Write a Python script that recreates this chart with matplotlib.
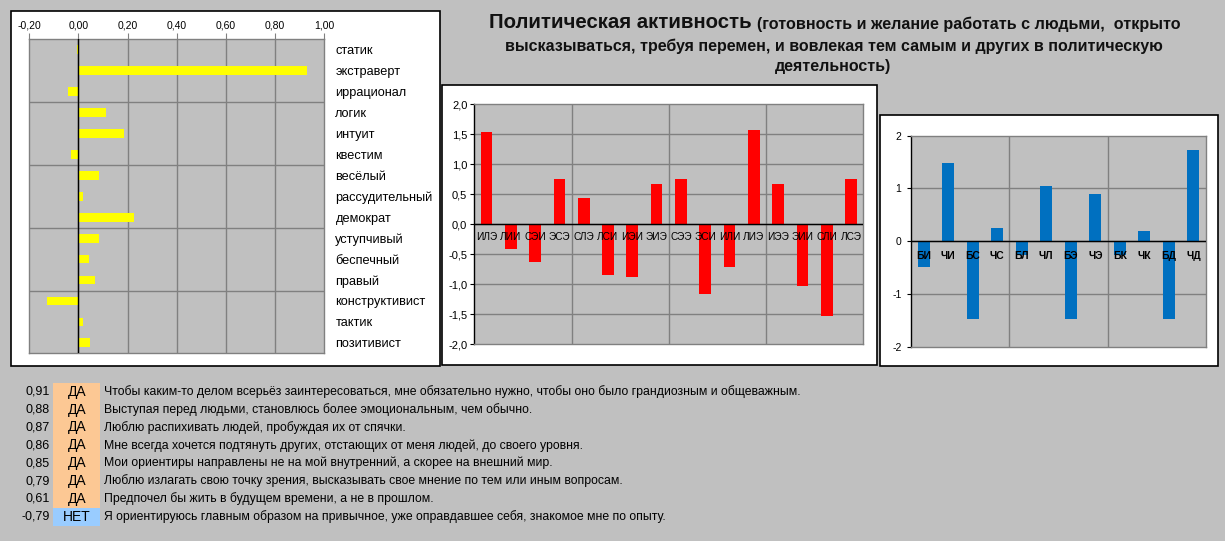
import matplotlib
matplotlib.use("Agg")
import matplotlib.pyplot as plt
from matplotlib.patches import Rectangle

W, H = 1225, 541
BG = "#c0c0c0"
GRID = "#808080"

# ---- data ----
traits = ["статик", "экстраверт", "иррационал", "логик", "интуит", "квестим",
          "весёлый", "рассудительный", "демократ", "уступчивый", "беспечный",
          "правый", "конструктивист", "тактик", "позитивист"]
trait_vals = [-0.007, 0.93, -0.043, 0.11, 0.186, -0.03, 0.084, 0.019, 0.226,
              0.084, 0.043, 0.069, -0.129, 0.019, 0.047]
trait_ticks = [-0.2, 0.0, 0.2, 0.4, 0.6, 0.8, 1.0]

types = ["ИЛЭ", "ЛИИ", "СЭИ", "ЭСЭ", "СЛЭ", "ЛСИ", "ИЭИ", "ЭИЭ",
         "СЭЭ", "ЭСИ", "ИЛИ", "ЛИЭ", "ИЭЭ", "ЭИИ", "СЛИ", "ЛСЭ"]
type_vals = [1.54, -0.41, -0.62, 0.76, 0.44, -0.84, -0.88, 0.67,
             0.76, -1.16, -0.71, 1.58, 0.67, -1.02, -1.52, 0.76]
type_ticks = [-2.0, -1.5, -1.0, -0.5, 0.0, 0.5, 1.0, 1.5, 2.0]

funcs = ["БИ", "ЧИ", "БС", "ЧС", "БЛ", "ЧЛ", "БЭ", "ЧЭ", "БК", "ЧК", "БД", "ЧД"]
func_vals = [-0.49, 1.49, -1.48, 0.25, -0.27, 1.04, -1.48, 0.89, -0.27, 0.20, -1.48, 1.73]
func_ticks = [-2, -1, 0, 1, 2]

q_corr = ["0,91", "0,88", "0,87", "0,86", "0,85", "0,79", "0,61", "-0,79"]
q_ans = ["ДА", "ДА", "ДА", "ДА", "ДА", "ДА", "ДА", "НЕТ"]
q_text = [
    "Чтобы каким-то делом всерьёз заинтересоваться, мне обязательно нужно, чтобы оно было грандиозным и общеважным.",
    "Выступая перед людьми, становлюсь более эмоциональным, чем обычно.",
    "Люблю распихивать людей, пробуждая их от спячки.",
    "Мне всегда хочется подтянуть других, отстающих от меня людей, до своего уровня.",
    "Мои ориентиры направлены не на мой внутренний, а скорее на внешний мир.",
    "Люблю излагать свою точку зрения, высказывать свое мнение по тем или иным вопросам.",
    "Предпочел бы жить в будущем времени, а не в прошлом.",
    "Я ориентируюсь главным образом на привычное, уже оправдавшее себя, знакомое мне по опыту.",
]

title_big = "Политическая активность"
title_l1 = "(готовность и желание работать с людьми,  открыто"
title_l2 = "высказываться, требуя перемен, и вовлекая тем самым и других в политическую"
title_l3 = "деятельность)"

plt.rcParams["font.family"] = ["Liberation Sans", "DejaVu Sans"]

fig = plt.figure(figsize=(W / 100, H / 100), dpi=100, facecolor=BG)


def rect(x0, y0, x1, y1):
    return [x0 / W, 1 - y1 / H, (x1 - x0) / W, (y1 - y0) / H]


def fx(x):
    return x / W


def fy(y):
    return 1 - y / H


def panel(x0, y0, x1, y1):
    fig.patches.append(Rectangle((fx(x0), fy(y1)), (x1 - x0) / W, (y1 - y0) / H,
                                 transform=fig.transFigure, facecolor="white",
                                 edgecolor="black", linewidth=1.2, zorder=-5))


panel(11, 11, 440, 366)
panel(442, 85, 877, 365)
panel(880, 115, 1218, 366)


def style_axes(ax):
    ax.set_facecolor(BG)
    for s in ax.spines.values():
        s.set_color(GRID)
        s.set_linewidth(1.0)


# ---- left chart ----
ax1 = fig.add_axes(rect(29.3, 39.3, 324.3, 353.3))
style_axes(ax1)
yp = list(range(len(traits)))
ax1.barh(yp, trait_vals, height=0.42, color="#ffff00", zorder=3)
ax1.set_xlim(-0.2, 1.0)
ax1.set_ylim(len(traits) - 0.5, -0.5)
ax1.set_xticks(trait_ticks)
ax1.set_xticklabels([f"{t:.2f}".replace(".", ",") for t in trait_ticks], fontsize=7.5)
ax1.xaxis.tick_top()
ax1.tick_params(axis="x", length=4, color=GRID, pad=2)
ax1.set_yticks(yp)
ax1.set_yticklabels(traits, fontsize=9.2)
ax1.yaxis.tick_right()
ax1.tick_params(axis="y", length=0, pad=8)
for t in trait_ticks[1:-1]:
    ax1.axvline(t, color=GRID, lw=1.0, zorder=1)
for b in [2.5, 5.5, 8.5, 11.5]:
    ax1.axhline(b, color=GRID, lw=1.0, zorder=1)
ax1.axvline(0, color="black", lw=1.0, zorder=4)

# ---- middle chart ----
ax2 = fig.add_axes(rect(474.3, 104.3, 863.3, 344.3))
style_axes(ax2)
xp = list(range(len(types)))
ax2.bar(xp, type_vals, width=0.48, color="#ff0000", zorder=3)
ax2.set_xlim(-0.5, len(types) - 0.5)
ax2.set_ylim(-2, 2)
ax2.set_yticks(type_ticks)
ax2.set_yticklabels([f"{t:.1f}".replace(".", ",") for t in type_ticks], fontsize=8)
ax2.tick_params(axis="y", length=3, pad=2)
ax2.set_xticks([])
ax2.spines["left"].set_color("black")
for t in type_ticks[1:-1]:
    ax2.axhline(t, color=GRID, lw=1.0, zorder=1)
for b in [3.5, 7.5, 11.5]:
    ax2.axvline(b, color=GRID, lw=1.0, zorder=1)
ax2.axhline(0, color="black", lw=1.0, zorder=4)
for i, lab in enumerate(types):
    ax2.text(i, -0.207, lab, ha="center", va="center", fontsize=7.3, zorder=5)

# ---- right chart ----
ax3 = fig.add_axes(rect(911.3, 135.7, 1205.7, 346.7))
style_axes(ax3)
xf = list(range(len(funcs)))
ax3.bar(xf, func_vals, width=0.49, color="#0070c0", zorder=3)
ax3.set_xlim(-0.5, len(funcs) - 0.5)
ax3.set_ylim(-2, 2)
ax3.set_yticks(func_ticks)
ax3.set_yticklabels([str(t) for t in func_ticks], fontsize=7.5)
ax3.tick_params(axis="y", length=3, pad=4)
ax3.set_xticks([])
ax3.spines["left"].set_color("black")
for t in func_ticks[1:-1]:
    ax3.axhline(t, color=GRID, lw=1.0, zorder=1)
for b in [3.5, 7.5]:
    ax3.axvline(b, color=GRID, lw=1.0, zorder=1)
ax3.axhline(0, color="black", lw=1.0, zorder=4)
for i, lab in enumerate(funcs):
    ax3.text(i, -0.275, lab, ha="center", va="center", fontsize=7.5,
             fontweight="bold", zorder=5)

# ---- title ----
fig.text(fx(752), fy(23), title_big, ha="right", va="center", fontsize=14.7,
         fontweight="bold", color="#111111")
fig.text(fx(757), fy(24), title_l1, ha="left", va="center", fontsize=11.6,
         fontweight="bold", color="#111111")
fig.text(fx(834), fy(46), title_l2, ha="center", va="center", fontsize=11.5,
         fontweight="bold", color="#111111")
fig.text(fx(833), fy(67), title_l3, ha="center", va="center", fontsize=11.5,
         fontweight="bold", color="#111111")

# ---- questions ----
row0, step = 391.7, 17.86
top = row0 - step / 2
for i, (c, a, t) in enumerate(zip(q_corr, q_ans, q_text)):
    y = row0 + i * step
    col = "#fcc894" if a == "ДА" else "#99ccff"
    fig.patches.append(Rectangle((fx(53), fy(top + (i + 1) * step)), 47 / W, step / H,
                                 transform=fig.transFigure, facecolor=col,
                                 edgecolor="none", zorder=-5))
    fig.text(fx(50), fy(y), c, ha="right", va="center", fontsize=9)
    fig.text(fx(77), fy(y), a, ha="center", va="center", fontsize=10)
    fig.text(fx(104), fy(y), t, ha="left", va="center", fontsize=8.85)

fig.savefig("out.png", dpi=100, facecolor=BG)
